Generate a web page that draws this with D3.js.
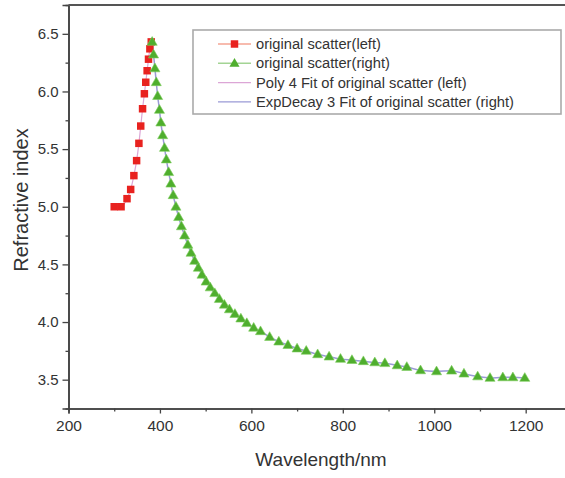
<!DOCTYPE html>
<html>
<head>
<meta charset="utf-8">
<script src="https://cdn.jsdelivr.net/npm/d3@7"></script>
<style>
  body { margin: 0; background: #fff; }
  text { font-family: 'Liberation Sans', Arial, sans-serif; fill: #333; }
</style>
</head>
<body>
<div id="chart"></div>
<script>
// left branch (red squares) - wavelength / refractive index
const leftWl = [300, 315, 328, 336, 343, 349, 354, 358, 362, 366, 369, 372, 375, 378, 381];
const leftN = [5.00, 5.00, 5.07, 5.15, 5.27, 5.40, 5.55, 5.70, 5.85, 5.98, 6.08, 6.18, 6.28, 6.37, 6.43];

// right branch (green triangles)
const rightWl = [383, 386, 389, 392, 395, 399, 402, 406, 410, 414, 419, 424, 429, 435, 441, 447,
  454, 461, 468, 476, 484, 492, 501, 510, 520, 530, 541, 552, 564, 577, 590, 605, 620, 640, 660,
  680, 700, 720, 745, 770, 795, 820, 845, 870, 892, 919, 940, 970, 1005, 1038, 1065, 1095, 1122,
  1150, 1172, 1198];
const rightN = [6.43, 6.32, 6.20, 6.08, 5.96, 5.84, 5.73, 5.62, 5.51, 5.41, 5.30, 5.20, 5.10, 5.00,
  4.91, 4.83, 4.75, 4.67, 4.60, 4.53, 4.47, 4.41, 4.35, 4.30, 4.25, 4.20, 4.15, 4.11, 4.07, 4.03,
  3.99, 3.95, 3.92, 3.87, 3.83, 3.80, 3.77, 3.75, 3.72, 3.70, 3.68, 3.67, 3.66, 3.65, 3.643, 3.624,
  3.61, 3.581, 3.572, 3.578, 3.552, 3.528, 3.515, 3.52, 3.52, 3.515];

const xTicks = [200, 400, 600, 800, 1000, 1200];
const yTicks = [3.5, 4.0, 4.5, 5.0, 5.5, 6.0, 6.5];

const legendItems = [
  { label: 'original scatter(left)', line: '#f5a493', marker: 'square' },
  { label: 'original scatter(right)', line: '#a3d494', marker: 'triangle' },
  { label: 'Poly 4 Fit of original scatter (left)', line: '#dca6d6', marker: null },
  { label: 'ExpDecay 3 Fit of original scatter (right)', line: '#9a9ad6', marker: null },
];

const W = 565;
const H = 478;
const red = '#e8221f';
const green = '#4fae2e';

const svg = d3.select('#chart').append('svg')
  .attr('width', W)
  .attr('height', H);

const x = d3.scaleLinear().domain([200, 1300]).range([68.5, 571.4]);
const y = d3.scaleLinear().domain([3.25, 6.75]).range([408.5, 5]);

const left = leftWl.map((w, i) => ({ w, n: leftN[i] }));
const right = rightWl.map((w, i) => ({ w, n: rightN[i] }));

// fit curves (under the markers)
const line = d3.line().x(d => x(d.w)).y(d => y(d.n)).curve(d3.curveMonotoneX);

svg.append('path')
  .datum(left)
  .attr('d', line)
  .attr('fill', 'none')
  .attr('stroke', '#dca6d6')
  .attr('stroke-width', 1.2);

svg.append('path')
  .datum(right)
  .attr('d', line)
  .attr('fill', 'none')
  .attr('stroke', '#9a9ad6')
  .attr('stroke-width', 1.5);

const sq = d3.symbol().type(d3.symbolSquare).size(56);
const tri = d3.symbol().type(d3.symbolTriangle).size(44);

svg.append('g').selectAll('path')
  .data(left)
  .join('path')
  .attr('d', sq)
  .attr('transform', d => `translate(${x(d.w)},${y(d.n)})`)
  .attr('fill', red);

svg.append('g').selectAll('path')
  .data(right)
  .join('path')
  .attr('d', tri)
  .attr('transform', d => `translate(${x(d.w)},${y(d.n) + 0.5})`)
  .attr('fill', green)
  .attr('stroke', '#7ccc5c')
  .attr('stroke-width', 0.6);

// axes
const xAxis = d3.axisBottom(x)
  .tickValues(xTicks)
  .tickSize(5)
  .tickPadding(6)
  .tickFormat(d3.format('d'));

const xMinor = d3.axisBottom(x)
  .tickValues([300, 500, 700, 900, 1100])
  .tickSize(3)
  .tickFormat('');

const yAxis = d3.axisLeft(y)
  .tickValues(yTicks)
  .tickSize(6)
  .tickPadding(4)
  .tickFormat(d3.format('.1f'));

const yMinor = d3.axisLeft(y)
  .tickValues([3.75, 4.25, 4.75, 5.25, 5.75, 6.25])
  .tickSize(3)
  .tickFormat('');

const gx = svg.append('g')
  .attr('transform', `translate(0,${y.range()[0]})`)
  .call(xAxis);
gx.selectAll('text').style('font-size', '15.5px');

svg.append('g')
  .attr('transform', `translate(0,${y.range()[0]})`)
  .call(xMinor);

const gy = svg.append('g')
  .attr('transform', `translate(${x.range()[0]},0)`)
  .call(yAxis);
gy.selectAll('text').style('font-size', '15px');

svg.append('g')
  .attr('transform', `translate(${x.range()[0]},0)`)
  .call(yMinor);

svg.selectAll('.domain').attr('stroke', '#444').attr('stroke-width', 1.6);
svg.selectAll('.tick line').attr('stroke', '#444').attr('stroke-width', 1.3);

// top frame line
svg.append('line')
  .attr('x1', x.range()[0])
  .attr('x2', x.range()[1])
  .attr('y1', y.range()[1])
  .attr('y2', y.range()[1])
  .attr('stroke', '#555')
  .attr('stroke-width', 1.8);

// axis titles
svg.append('text')
  .attr('x', 321)
  .attr('y', 466)
  .attr('text-anchor', 'middle')
  .style('font-size', '19px')
  .text('Wavelength/nm');

svg.append('text')
  .attr('transform', 'translate(28,200) rotate(-90)')
  .attr('text-anchor', 'middle')
  .style('font-size', '20px')
  .text('Refractive index');

// legend
const legend = svg.append('g').attr('class', 'legend');

legend.append('rect')
  .attr('x', 193)
  .attr('y', 30)
  .attr('width', 368)
  .attr('height', 84)
  .attr('fill', '#fff')
  .attr('stroke', '#aaa')
  .attr('stroke-width', 1.6);

const rows = legend.selectAll('g.row')
  .data(legendItems)
  .join('g')
  .attr('class', 'row')
  .attr('transform', (d, i) => `translate(0,${44 + i * 19.3})`);

rows.append('line')
  .attr('x1', 218)
  .attr('x2', 251)
  .attr('stroke', d => d.line)
  .attr('stroke-width', 1.4);

rows.filter(d => d.marker === 'square').append('path')
  .attr('d', sq)
  .attr('transform', 'translate(234.5,0)')
  .attr('fill', red);

rows.filter(d => d.marker === 'triangle').append('path')
  .attr('d', tri)
  .attr('transform', 'translate(234.5,0.5)')
  .attr('fill', green);

rows.append('text')
  .attr('x', 256)
  .attr('dy', '0.35em')
  .style('font-size', '14.7px')
  .text(d => d.label);
</script>
</body>
</html>
